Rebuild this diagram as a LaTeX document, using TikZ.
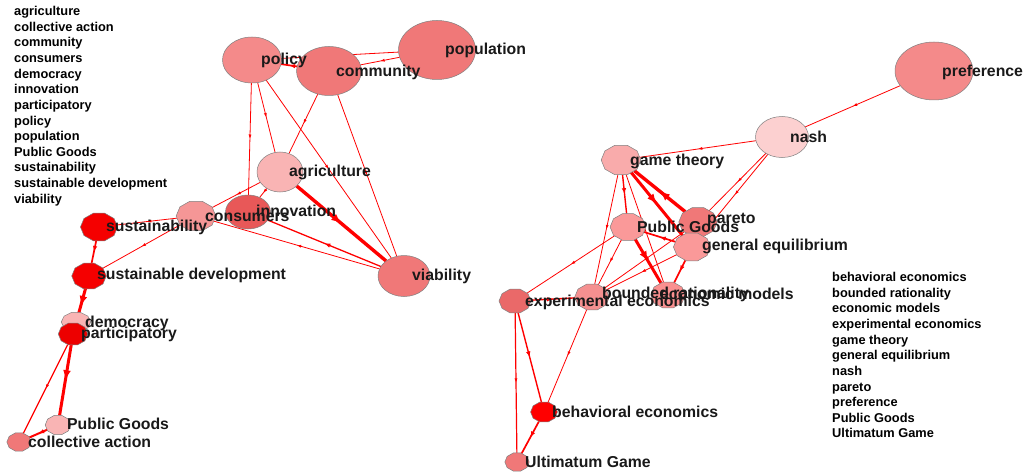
\documentclass[tikz,border=0pt]{standalone}
\usepackage{fontspec}
\setmainfont{Liberation Sans}
\usetikzlibrary{shapes.geometric,decorations.markings,arrows.meta}

\definecolor{salmon}{HTML}{F48A8A}
\definecolor{coral}{HTML}{F07878}
\definecolor{rose}{HTML}{F9B4B4}
\definecolor{blush}{HTML}{FCD0D0}
\definecolor{deeprose}{HTML}{E85858}
\definecolor{fullred}{HTML}{F50000}

\pgfdeclarelayer{bg}
\pgfsetlayers{bg,main}

\begin{document}
\begin{tikzpicture}[x=1pt, y=-1pt,
        term/.style={draw=black!50, line width=0.5pt, inner sep=0pt, outer sep=0pt},
        oval/.style={term, ellipse},
        poly/.style={term, regular polygon, regular polygon sides=10, minimum size=#1, xscale=1.28},
        word/.style={anchor=west, inner sep=0pt, text=black!90, font=\fontsize{15.8pt}{16pt}\selectfont\bfseries},
        keylist/.style={anchor=north west, inner sep=0pt, align=left, font=\fontsize{12.8pt}{15.65pt}\selectfont\bfseries},
        linkthin/.style={red, line width=0.8pt, postaction={decorate},
          decoration={markings, mark=at position 0.5 with {\arrow{Latex[length=4.5pt,width=3pt]}}}},
        linkmid/.style={red, line width=1.7pt, postaction={decorate},
          decoration={markings, mark=at position 0.5 with {\arrow{Latex[length=6pt,width=4.5pt]}}}},
        linkfat/.style={red, line width=3.4pt, postaction={decorate},
          decoration={markings, mark=at position 0.5 with {\arrow{Latex[length=10pt,width=8pt]}}}}]
          \useasboundingbox (0,0) rectangle (1027,476);

          %left cluster
          \node[oval, fill=salmon, minimum width=59pt, minimum height=46pt] (policy) at (252,60) {};
          \node[oval, fill=coral, minimum width=65pt, minimum height=49pt] (community) at (329,71) {};
          \node[oval, fill=coral, minimum width=77pt, minimum height=59pt] (population) at (437,50) {};
          \node[oval, fill=rose, minimum width=46pt, minimum height=40pt] (agriculture) at (280,172) {};
          \node[oval, fill=deeprose, minimum width=45pt, minimum height=34pt] (innovation) at (248,212) {};
          \node[poly=31pt, fill=salmon!90!white] (consumers) at (196,216) {};
          \node[poly=29pt, fill=fullred] (sustainability) at (99,227) {};
          \node[poly=27pt, fill=fullred] (sustdev) at (89,276) {};
          \node[poly=20pt, fill=rose, xscale=1.15] (democracy) at (76,322) {};
          \node[poly=23pt, fill=red!93!black] (participatory) at (73,334) {};
          \node[poly=20pt, fill=rose] (goodsleft) at (58,425) {};
          \node[poly=19pt, fill=coral] (collective) at (19,442) {};
          \node[oval, fill=coral, minimum width=52pt, minimum height=41pt] (viability) at (404,276) {};

          %right cluster
          \node[oval, fill=salmon, minimum width=78pt, minimum height=58pt] (preference) at (934,71) {};
          \node[oval, fill=blush, minimum width=53pt, minimum height=41pt] (nash) at (782,137) {};
          \node[poly=31pt, fill=rose!95!red] (gametheory) at (621,160) {};
          \node[poly=30pt, fill=coral] (pareto) at (698,222) {};
          \node[poly=28pt, fill=rose!85!red] (goodsright) at (628,227) {};
          \node[poly=29pt, fill=rose!85!red] (genequil) at (692,247) {};
          \node[poly=27pt, fill=rose!80!red] (econmodels) at (668,295) {};
          \node[poly=27pt, fill=salmon!95!white] (bounded) at (592,297) {};
          \node[poly=25pt, fill=deeprose!90!white] (experimental) at (515,301) {};
          \node[poly=21pt, fill=red] (behavioral) at (544,412) {};
          \node[poly=19pt, fill=coral] (ultimatum) at (517,462) {};

          %links
          \begin{pgfonlayer}{bg}
          \fill[white] (0,0) rectangle (1027,476);
          \draw[linkthin] (population) -- (policy);
          \draw[linkthin] (population) -- (community);
          \draw[linkmid] (community) -- (policy);
          \draw[linkthin] (policy) -- (agriculture);
          \draw[linkthin] (policy) -- (innovation);
          \draw[linkthin] (policy) -- (viability);
          \draw[linkthin] (community) -- (agriculture);
          \draw[linkthin] (community) -- (viability);
          \draw[linkfat] (agriculture) -- (viability);
          \draw[linkthin] (agriculture) -- (innovation);
          \draw[linkthin] (agriculture) -- (consumers);
          \draw[linkmid, line width=1.3pt] (viability) -- (innovation);
          \draw[linkthin] (viability) -- (consumers);
          \draw[linkthin] (consumers) -- (sustainability);
          \draw[linkthin] (consumers) -- (sustdev);
          \draw[linkmid] (sustainability) -- (sustdev);
          \draw[linkfat, line width=3pt] (sustdev) -- (participatory);
          \draw[linkfat, line width=3pt] (participatory) -- (goodsleft);
          \draw[linkthin, line width=1.2pt] (participatory) -- (collective);
          \draw[linkmid, line width=2pt] (goodsleft) -- (collective);

          \draw[linkthin] (preference) -- (nash);
          \draw[linkthin] (nash) -- (gametheory);
          \draw[linkthin] (nash) -- (pareto);
          \draw[linkthin] (nash) -- (genequil);
          \draw[linkfat] (pareto) -- (gametheory);
          \draw[linkfat, line width=3pt] (gametheory) -- (genequil);
          \draw[linkmid, line width=1.4pt] (gametheory) -- (goodsright);
          \draw[linkthin] (gametheory) -- (econmodels);
          \draw[linkthin] (gametheory) -- (bounded);
          \draw[linkfat, line width=3pt] (goodsright) -- (econmodels);
          \draw[linkthin] (goodsright) -- (bounded);
          \draw[linkthin] (goodsright) -- (experimental);
          \draw[linkmid] (genequil) -- (goodsright);
          \draw[linkmid] (genequil) -- (econmodels);
          \draw[linkthin] (genequil) -- (bounded);
          \draw[linkthin] (pareto) -- (bounded);
          \draw[linkmid, line width=1.4pt] (experimental) -- (bounded);
          \draw[linkmid, line width=1.4pt] (experimental) -- (behavioral);
          \draw[linkthin, line width=1.2pt] (experimental) -- (ultimatum);
          \draw[linkthin] (bounded) -- (behavioral);
          \draw[linkmid] (behavioral) -- (ultimatum);
          \end{pgfonlayer}

          %labels
          \node[word] (policy-t) at (261,60) {policy};
          \node[word] (community-t) at (336,72) {community};
          \node[word] (population-t) at (445,50) {population};
          \node[word] (agriculture-t) at (289,172) {agriculture};
          \node[word] (innovation-t) at (256,211) {innovation};
          \node[word] (consumers-t) at (205,217) {consumers};
          \node[word] (sustainability-t) at (106,227) {sustainability};
          \node[word] (sustdev-t) at (97,275) {sustainable development};
          \node[word] (democracy-t) at (85,323) {democracy};
          \node[word] (participatory-t) at (81,334) {participatory};
          \node[word] (goodsleft-t) at (67,424) {Public Goods};
          \node[word] (collective-t) at (28,442) {collective action};
          \node[word] (viability-t) at (412,276) {viability};

          \node[word] (preference-t) at (942,72) {preference};
          \node[word] (nash-t) at (790,137) {nash};
          \node[word] (gametheory-t) at (630,161) {game theory};
          \node[word] (pareto-t) at (707,220) {pareto};
          \node[word] (goodsright-t) at (637,227) {Public Goods};
          \node[word] (genequil-t) at (702,246) {general equilibrium};
          \node[word] (econmodels-t) at (660,294) {economic models};
          \node[word] (bounded-t) at (602,294) {bounded rationality};
          \node[word] (experimental-t) at (525,302) {experimental economics};
          \node[word] (behavioral-t) at (552,412) {behavioral economics};
          \node[word] (ultimatum-t) at (525,462) {Ultimatum Game};

          %term lists
          \node[keylist] (keysleft) at (14,6) {agriculture\\collective action\\community\\consumers\\democracy\\innovation\\participatory\\policy\\population\\Public Goods\\sustainability\\sustainable development\\viability};
          \node[keylist] (keysright) at (832,272) {behavioral economics\\bounded rationality\\economic models\\experimental economics\\game theory\\general equilibrium\\nash\\pareto\\preference\\Public Goods\\Ultimatum Game};
    \end{tikzpicture}
\end{document}
